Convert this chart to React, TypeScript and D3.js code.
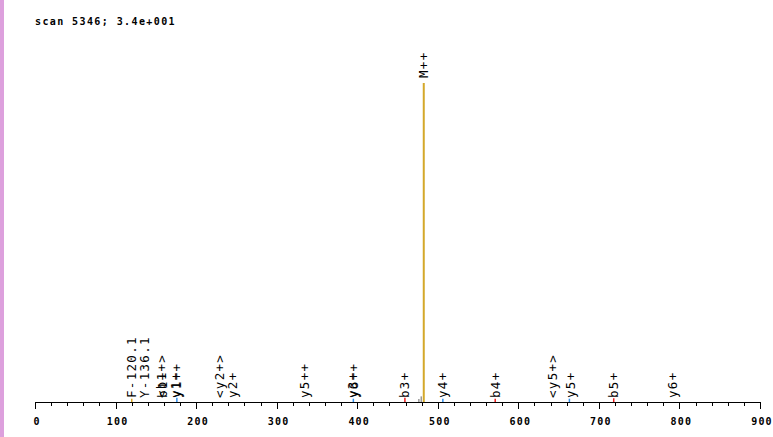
import React from "react";
import * as d3 from "d3";

const W = 773;
const H = 437;

// Peaks: m/z, relative intensity, ion type
const peakMz = [120.1, 176.1, 395.2, 459.2, 476.5, 479.5, 482.6, 506.3, 571.3, 663.4, 718.4];
const peakInt = [0.35, 0.45, 0.35, 0.45, 0.25, 0.6, 34, 0.35, 0.35, 0.35, 0.4];
const peakType = ["imm", "y", "y", "b", "none", "none", "M", "y", "b", "y", "b"];

// Annotation labels and their m/z
const labelText = ["F-120.1", "Y-136.1", "<b1+>", "b1+", "y1+", "y1++", "<y2+>", "y2+", "y5++", "y3+", "y6++", "b3+", "M++", "y4+", "b4+", "<y5+>", "y5+", "b5+", "y6+"];
const labelMz = [120.1, 136.1, 157.0, 158.5, 174.5, 176.0, 229.5, 245.5, 335.0, 394.0, 395.5, 459.2, 482.6, 506.3, 571.3, 643.0, 665.0, 718.4, 791.0];

const xTicks = [0, 100, 200, 300, 400, 500, 600, 700, 800, 900];
const title = "scan 5346; 3.4e+001";

const colors: Record<string, string> = {
  imm: "#daa520",
  y: "#2f8fef",
  b: "#ee1c1c",
  none: "#999999",
  M: "#d4a82a",
};

export default function App() {
  const x = d3.scaleLinear().domain([0, 900]).range([35, 760]);
  const y = d3.scaleLinear().domain([0, 34]).range([402, 83]);
  const minor = d3.range(0, 901, 20);
  const font = "'DejaVu Sans Mono', monospace";

  return (
    <div style={{ position: "fixed", left: 0, top: 0, width: W, height: H, background: "#fff" }}>
      <svg width={W} height={H} style={{ display: "block" }}>
        <rect x={0} y={0} width={4} height={H} fill="#dda0dd" />
        <text x={35} y={25} fontFamily={font} fontWeight="bold" fontSize={10} letterSpacing={1.4} fill="#000">
          {title}
        </text>
        {/* peaks */}
        {peakMz.map((m, i) => (
          <line
            key={"p" + i}
            x1={x(m)}
            x2={x(m)}
            y1={y(0)}
            y2={Math.min(y(peakInt[i]), y(0) - 3)}
            stroke={colors[peakType[i]]}
            strokeWidth={peakType[i] === "M" ? 2 : 1.5}
          />
        ))}
        {/* axis */}
        <line x1={x(0)} x2={x(900)} y1={402.5} y2={402.5} stroke="#000" strokeWidth={1} />
        {minor.map((t) => {
          const major = t % 100 === 0;
          return (
            <line
              key={"t" + t}
              x1={Math.round(x(t)) + 0.5}
              x2={Math.round(x(t)) + 0.5}
              y1={402}
              y2={major ? 409 : 406}
              stroke="#000"
              strokeWidth={1}
            />
          );
        })}
        {xTicks.map((t) => (
          <text
            key={"l" + t}
            x={x(t) + 2}
            y={425}
            textAnchor="middle"
            fontFamily={font}
            fontWeight="bold"
            fontSize={10}
            letterSpacing={1.2}
            fill="#000"
          >
            {t}
          </text>
        ))}
        {/* labels */}
        {labelText.map((s, i) => {
          const px = x(labelMz[i]);
          const isM = s === "M++";
          const py = isM ? y(34) - 5 : 398;
          return (
            <text
              key={"a" + i}
              transform={`translate(${px},${py}) rotate(-90)`}
              fontFamily={font}
              fontSize={12.5}
              letterSpacing={1.3}
              dominantBaseline="central"
              fill="#000"
            >
              {s}
            </text>
          );
        })}
      </svg>
    </div>
  );
}
